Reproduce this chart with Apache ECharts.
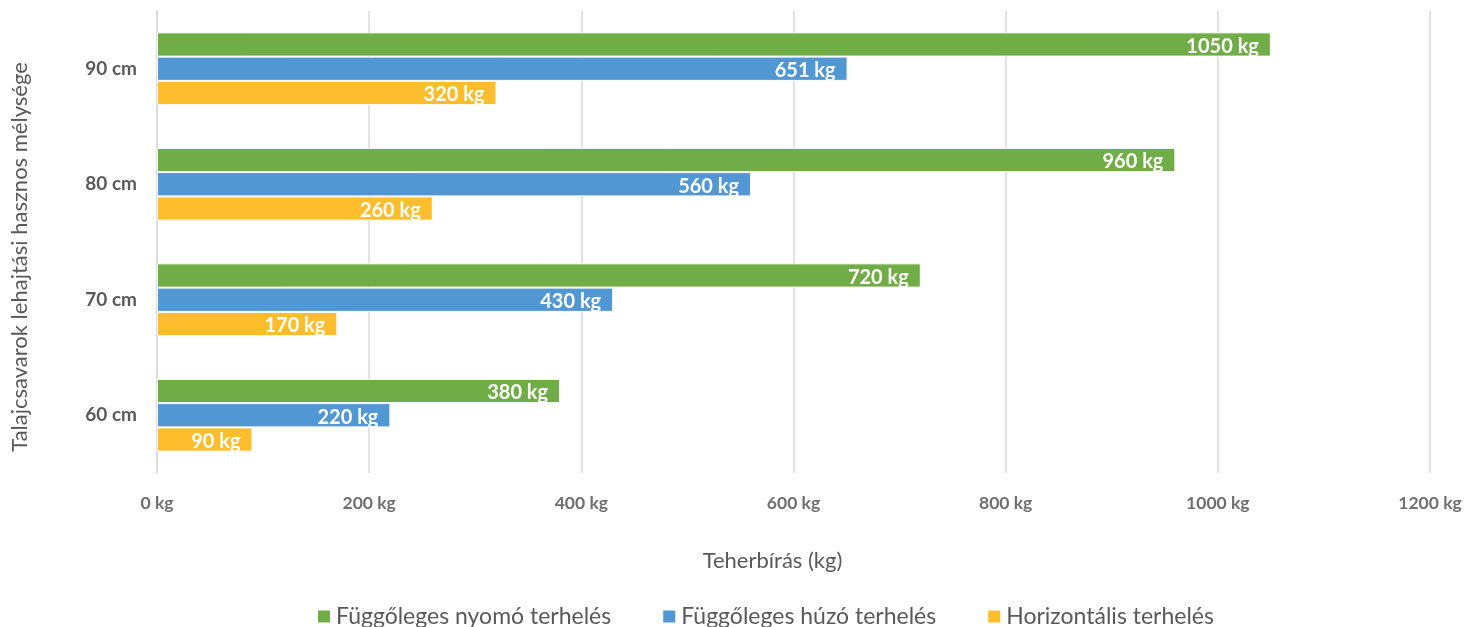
<!DOCTYPE html>
<html><head><meta charset="utf-8">
<script src="https://cdn.jsdelivr.net/npm/echarts@6/dist/echarts.min.js"></script>
<style>html,body{margin:0;padding:0;background:#fff}#c{width:1467px;height:627px}</style>
</head><body><div id="c"></div>
<script>
const categories = ['60 cm', '70 cm', '80 cm', '90 cm'];
const nyomo = [380, 720, 960, 1050];
const huzo = [220, 430, 560, 651];
const horiz = [90, 170, 260, 320];
const seriesNames = ['Függőleges nyomó terhelés', 'Függőleges húzó terhelés', 'Horizontális terhelés'];
const xTicks = [0, 200, 400, 600, 800, 1000, 1200];

const F = 'Lato, "Open Sans", sans-serif';
const chart = echarts.init(document.getElementById('c'));
const lbl = {show: true, position: 'insideRight', distance: 12, offset: [0, 2], color: '#fff', fontWeight: 'bold', fontSize: 20, fontFamily: F, formatter: p => p.value + ' kg'};
const mk = (name, data, color) => ({
  name, type: 'bar', data, barGap: '0%', barCategoryGap: '37%',
  itemStyle: {color, borderColor: '#fff', borderWidth: 1}, label: lbl
});
chart.setOption({
  animation: false,
  grid: {left: 157, right: 37, top: 11, bottom: 154},
  legend: {
    data: seriesNames, top: 600, left: 311, itemWidth: 14, itemHeight: 14, itemGap: 50,
    icon: 'rect', textStyle: {fontSize: 23, color: '#595959', fontFamily: F}
  },
  xAxis: {
    type: 'value', min: 0, max: 1200, interval: 200,
    name: 'Teherbírás (kg)', nameLocation: 'middle', nameGap: 77,
    nameTextStyle: {fontSize: 22, color: '#595959', fontFamily: F, padding: [0, 42, 0, 0]},
    axisLine: {show: false}, axisTick: {show: false},
    splitLine: {lineStyle: {color: '#d9d9d9', width: 1.5}},
    axisLabel: {margin: 21, fontSize: 17.5, fontWeight: 'bold', color: '#6f6f6f', fontFamily: F, formatter: v => v + ' kg'}
  },
  yAxis: {
    type: 'category', data: categories,
    name: 'Talajcsavarok lehajtási hasznos mélysége', nameLocation: 'middle', nameGap: 126, nameRotate: 90,
    nameTextStyle: {fontSize: 22, color: '#595959', fontFamily: F, padding: [0, 30, 0, 0]},
    axisLine: {show: true, lineStyle: {color: '#d9d9d9', width: 1.5}}, axisTick: {show: false},
    axisLabel: {margin: 20, fontSize: 19, fontWeight: 'bold', color: '#595959', fontFamily: F}
  },
  series: [
    mk(seriesNames[0], nyomo, '#70AD47'),
    mk(seriesNames[1], huzo, '#5097D3'),
    mk(seriesNames[2], horiz, '#FDBD2C')
  ]
});
</script></body></html>
